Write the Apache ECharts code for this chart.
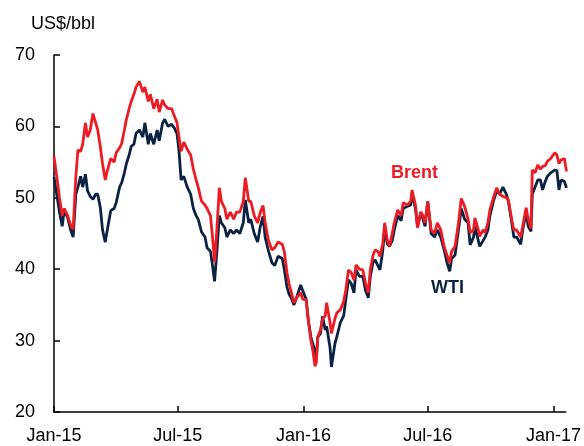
<!DOCTYPE html>
<html>
<head>
<meta charset="utf-8">
<script src="https://cdn.jsdelivr.net/npm/echarts@6/dist/echarts.min.js"></script>
<style>
  html, body { margin: 0; padding: 0; background: #fff; }
  #chart { width: 584px; height: 446px; }
</style>
</head>
<body>
<div id="chart"></div>
<script>
// weekly-ish closes, US$/bbl
const dates = [
  '2015-01-01','2015-01-05','2015-01-09','2015-01-13','2015-01-16','2015-01-21','2015-01-26','2015-01-29',
  '2015-02-02','2015-02-05','2015-02-09','2015-02-12','2015-02-16','2015-02-19','2015-02-23','2015-02-27',
  '2015-03-03','2015-03-06','2015-03-10','2015-03-13','2015-03-17','2015-03-20','2015-03-25','2015-03-30',
  '2015-04-02','2015-04-07','2015-04-10','2015-04-14','2015-04-17','2015-04-21','2015-04-24','2015-04-28',
  '2015-05-01','2015-05-06','2015-05-11','2015-05-14','2015-05-19','2015-05-22','2015-05-27',
  '2015-06-01','2015-06-04','2015-06-09','2015-06-12','2015-06-17','2015-06-22','2015-06-26','2015-06-30',
  '2015-07-03','2015-07-06','2015-07-10','2015-07-15','2015-07-20','2015-07-24','2015-07-28','2015-07-31',
  '2015-08-05','2015-08-10','2015-08-13','2015-08-18','2015-08-21','2015-08-24','2015-08-27','2015-08-31',
  '2015-09-03','2015-09-08','2015-09-11','2015-09-16','2015-09-21','2015-09-25','2015-09-30',
  '2015-10-05','2015-10-08','2015-10-13','2015-10-16','2015-10-21','2015-10-26','2015-10-30',
  '2015-11-03','2015-11-06','2015-11-11','2015-11-16','2015-11-20','2015-11-25',
  '2015-12-01','2015-12-04','2015-12-08','2015-12-11','2015-12-15','2015-12-18','2015-12-22','2015-12-28','2015-12-31',
  '2016-01-05','2016-01-08','2016-01-12','2016-01-15','2016-01-18','2016-01-20','2016-01-22','2016-01-26','2016-01-29',
  '2016-02-02','2016-02-04','2016-02-09','2016-02-11','2016-02-16','2016-02-19','2016-02-24','2016-02-29',
  '2016-03-03','2016-03-07','2016-03-11','2016-03-15','2016-03-18','2016-03-23','2016-03-28',
  '2016-04-01','2016-04-05','2016-04-08','2016-04-12','2016-04-15','2016-04-19','2016-04-22','2016-04-26','2016-04-29',
  '2016-05-03','2016-05-06','2016-05-10','2016-05-13','2016-05-18','2016-05-23','2016-05-26',
  '2016-06-01','2016-06-06','2016-06-08','2016-06-13','2016-06-16','2016-06-21','2016-06-24','2016-06-27',
  '2016-07-01','2016-07-06','2016-07-11','2016-07-15','2016-07-20','2016-07-25','2016-07-29',
  '2016-08-02','2016-08-05','2016-08-10','2016-08-15','2016-08-19','2016-08-24','2016-08-29',
  '2016-09-01','2016-09-06','2016-09-08','2016-09-13','2016-09-15','2016-09-20','2016-09-23','2016-09-27','2016-09-30',
  '2016-10-05','2016-10-10','2016-10-14','2016-10-19','2016-10-24','2016-10-27',
  '2016-11-01','2016-11-04','2016-11-08','2016-11-14','2016-11-17','2016-11-22','2016-11-25','2016-11-29',
  '2016-12-01','2016-12-05','2016-12-09','2016-12-13','2016-12-16','2016-12-20','2016-12-23','2016-12-28','2016-12-30',
  '2017-01-03','2017-01-06','2017-01-09','2017-01-12','2017-01-17','2017-01-20'
]

const brent = [
  55.8, 53.0, 50.0, 47.5, 48.5, 47.5, 46.0, 45.6,
  53.0, 56.7, 56.5, 57.5, 60.5, 58.5, 59.5, 61.8,
  60.5, 59.5, 57.0, 54.8, 52.5, 53.8, 55.5, 55.0,
  56.3, 57.0, 57.6, 59.5, 61.0, 62.5, 63.5, 64.5,
  65.5, 66.3, 64.8, 65.5, 63.5, 64.5, 62.5,
  63.8, 62.0, 63.7, 63.0, 62.5, 62.5, 61.5, 60.5,
  58.5, 56.5, 57.8, 56.8, 56.0, 54.0, 52.5, 51.5,
  49.5, 49.0, 48.5, 47.5, 44.5, 41.0, 45.0, 51.4,
  49.5, 48.5, 47.0, 48.0, 47.0, 48.0, 48.0,
  49.5, 52.8, 49.5, 49.5, 47.5, 46.5, 48.0,
  48.9, 46.5, 44.0, 42.7, 43.0, 43.8,
  43.5, 42.5, 39.5, 38.0, 36.5, 35.3, 36.0, 36.7, 35.8,
  35.7, 33.0, 30.0, 28.5, 26.4, 27.0, 30.5, 31.5, 33.0,
  33.5, 35.3, 32.5, 31.0, 33.0, 33.9, 34.3, 35.5,
  37.1, 39.9, 39.5, 38.5, 40.6, 40.0, 39.9,
  38.0, 36.7, 40.0, 42.0, 42.7, 42.5, 41.8, 43.5, 46.5,
  44.0, 43.2, 45.0, 46.5, 48.3, 47.5, 49.3,
  49.0, 49.5, 51.1, 49.0, 45.8, 48.0, 47.5, 46.5,
  49.5, 45.5, 45.0, 46.5, 45.5, 43.2, 42.0,
  40.9, 42.5, 43.2, 46.5, 49.9, 48.8, 47.0,
  45.1, 45.5, 47.2, 45.5, 44.6, 45.5, 45.1, 46.5, 48.3,
  50.0, 51.4, 50.5, 50.2, 50.0, 49.7,
  46.9, 45.5, 45.5, 44.5, 46.0, 48.6, 47.0, 45.7,
  53.9, 53.5, 54.6, 54.0, 54.4, 54.5, 55.1, 55.5, 55.8,
  56.3, 56.0, 54.8, 55.3, 55.5, 53.7
]

const wti = [
  52.9, 50.5, 48.0, 46.0, 48.3, 47.2, 45.3, 44.5,
  50.5, 51.5, 53.0, 51.5, 53.3, 51.0, 50.2, 49.8,
  50.5, 50.5, 48.5, 45.5, 43.8, 45.5, 48.2, 48.5,
  49.3, 51.5, 52.1, 53.5, 54.8, 56.0, 57.2, 57.5,
  59.0, 59.5, 58.5, 60.5, 57.5, 59.0, 57.5,
  59.5, 58.0, 60.5, 61.0, 60.0, 60.3, 59.8, 59.0,
  56.5, 52.5, 53.0, 51.5, 50.5, 48.5, 47.5, 47.0,
  45.2, 44.5, 43.0, 42.5, 40.5, 38.3, 42.0, 47.5,
  46.5, 45.8, 44.5, 45.5, 45.0, 45.5, 45.0,
  46.5, 49.7, 46.5, 47.0, 45.0, 43.8, 46.0,
  47.4, 44.5, 42.5, 40.9, 40.5, 41.8,
  41.5, 40.0, 37.5, 36.5, 35.8, 35.0, 36.0, 37.8, 37.0,
  35.8, 33.0, 30.5, 29.5, 28.5, 27.8, 30.5, 31.0, 33.4,
  31.5, 32.0, 29.0, 26.3, 29.5, 30.6, 32.5, 33.5,
  35.7, 38.5, 38.0, 36.7, 39.9, 39.0, 39.0,
  37.0, 36.0, 39.0, 41.0, 41.3, 40.5, 39.9, 42.5, 45.5,
  43.5, 43.2, 44.0, 45.5, 47.5, 46.8, 48.5,
  48.8, 49.0, 50.5, 48.5, 46.0, 48.0, 47.0, 46.0,
  49.5, 45.0, 44.5, 45.5, 44.5, 42.7, 41.0,
  39.7, 41.5, 42.0, 45.5, 48.5, 47.0, 46.5,
  43.4, 44.5, 46.0, 44.0, 43.2, 44.0, 44.5, 45.5, 47.5,
  49.5, 51.0, 50.5, 51.5, 50.5, 49.5,
  46.5, 44.5, 44.5, 43.5, 45.5, 48.0, 46.0, 45.3,
  50.5, 51.5, 52.5, 52.5, 51.1, 52.3, 53.0, 53.5, 53.7,
  53.9, 53.8, 51.1, 52.5, 52.3, 51.4
]

const xTickDates = ['2015-01-01', '2015-07-01', '2016-01-01', '2016-07-01', '2017-01-01']
const xTickLabels = ['Jan-15', 'Jul-15', 'Jan-16', 'Jul-16', 'Jan-17']
const xStart = '2015-01-01'
const xEnd = '2017-01-19'
const yTicks = { min: 20, max: 70, step: 10 }

const RED = '#ec1c24'
const NAVY = '#0b2343'
const FONT = '"Liberation Sans", Arial, sans-serif'

// days since the first date, so the x axis is a plain value axis
function dayNo(s) {
  return Math.round((Date.parse(s) - Date.parse(xStart)) / 86400000)
}
const tickDays = xTickDates.map(dayNo)

const chart = echarts.init(document.getElementById('chart'), null, { renderer: 'canvas' })

chart.setOption({
  animation: false,
  backgroundColor: '#fff',
  grid: { left: 54, right: 16, top: 55, bottom: 34 },
  xAxis: {
    type: 'value',
    min: 0,
    max: dayNo(xEnd),
    axisLine: { lineStyle: { color: '#000', width: 1.5 } },
    axisTick: { show: true, inside: true, length: 6, customValues: tickDays, lineStyle: { color: '#000', width: 1.5 } },
    axisLabel: {
      color: '#000', fontSize: 18, fontFamily: FONT, margin: 15,
      customValues: tickDays,
      formatter: v => xTickLabels[tickDays.indexOf(v)] || ''
    },
    splitLine: { show: false }
  },
  yAxis: {
    type: 'value',
    min: yTicks.min,
    max: yTicks.max,
    interval: yTicks.step,
    axisLine: { show: true, lineStyle: { color: '#000', width: 1.5 } },
    axisTick: { show: true, inside: true, length: 6, lineStyle: { color: '#000', width: 1.5 } },
    axisLabel: { color: '#000', fontSize: 18, fontFamily: FONT, margin: 19 },
    splitLine: { show: false }
  },
  graphic: [
    { type: 'text', left: 31, top: 15, style: { text: 'US$/bbl', fill: '#000', font: '18px ' + FONT } },
    { type: 'text', left: 391, top: 164, style: { text: 'Brent', fill: RED, font: 'bold 18px ' + FONT } },
    { type: 'text', left: 431, top: 279, style: { text: 'WTI', fill: NAVY, font: 'bold 18px ' + FONT } }
  ],
  series: [
    {
      name: 'WTI', type: 'line', showSymbol: false,
      lineStyle: { color: NAVY, width: 2.8 },
      data: dates.map((d, i) => [dayNo(d), wti[i]])
    },
    {
      name: 'Brent', type: 'line', showSymbol: false,
      lineStyle: { color: RED, width: 2.8 },
      data: dates.map((d, i) => [dayNo(d), brent[i]])
    }
  ]
})
</script>
</body>
</html>
